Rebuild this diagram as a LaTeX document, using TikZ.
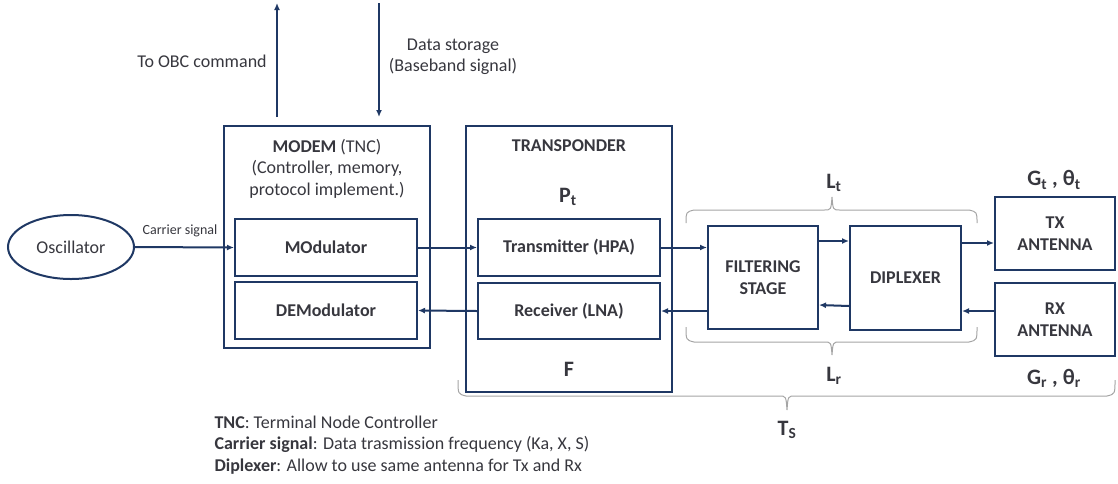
\documentclass[tikz,border=0pt]{standalone}
\usepackage{fontspec}
\setmainfont{Carlito}
\usetikzlibrary{arrows.meta,shapes.geometric}
\definecolor{navy}{RGB}{31,56,100}
\definecolor{ink}{RGB}{55,55,62}
\definecolor{bracegray}{RGB}{165,165,165}

\begin{document}
\begin{tikzpicture}[x=1pt,y=-1pt,
    every node/.style={text=ink, font=\fontsize{18}{21.5}\selectfont},
    block/.style={draw=navy, line width=2pt, inner sep=0pt, align=center, font=\fontsize{18}{22}\selectfont\bfseries},
    arrow/.style={draw=navy, line width=2pt, -{Latex[length=7pt,width=6pt]}},
    curly/.style={draw=bracegray, line width=1pt},
    tag/.style={font=\fontsize{22}{24}\selectfont\bfseries}]
    \useasboundingbox (0,0) rectangle (1118,483);
    % Oscillator and modem
    \node[ellipse, draw=navy, line width=2pt, minimum width=126pt, minimum height=64pt] (osc) at (71,247) {Oscillator};
    \node[font=\fontsize{14}{16}\selectfont] (carrier) at (180,231) {Carrier signal};
    \node[block, minimum width=206pt, minimum height=222pt] (modem) at (327,237) {};
    \node[align=center] (modemtxt) at (327,168.5) {\textbf{MODEM} (TNC)\\(Controller, memory,\\protocol implement.)};
    \node[block, minimum width=182pt, minimum height=57pt] (mod) at (326,247.5) {MOdulator};
    \node[block, minimum width=182pt, minimum height=57pt] (demod) at (326,310.5) {DEModulator};
    % Transponder
    \node[block, minimum width=206pt, minimum height=266pt] (trans) at (569,259) {};
    \node[font=\fontsize{18}{22}\selectfont\bfseries] (transtxt) at (569,146) {TRANSPONDER};
    \node[tag] (pt) at (568,197) {P\textsubscript{t}};
    \node[tag] (f) at (569,369) {F};
    \node[block, minimum width=182pt, minimum height=57pt] (tx) at (569,247.5) {Transmitter (HPA)};
    \node[block, minimum width=182pt, minimum height=56pt] (rx) at (569,311) {Receiver (LNA)};
    % Filtering, diplexer, antennas
    \node[block, minimum width=110pt, minimum height=103pt] (filt) at (763,277.5) {FILTERING\\STAGE};
    \node[block, minimum width=111pt, minimum height=104pt] (dip) at (905.5,278) {DIPLEXER};
    \node[block, minimum width=120pt, minimum height=73pt] (txa) at (1055,233.5) {TX\\ANTENNA};
    \node[block, minimum width=120pt, minimum height=73pt] (rxa) at (1055,319.5) {RX\\ANTENNA};
    % Labels
    \node (obc) at (202,61) {To OBC command};
    \node[align=center] (storage) at (453,57) {Data storage\\(Baseband signal)};
    \node[tag] (lt) at (834,183) {L\textsubscript{t}};
    \node[tag] (lr) at (834,376) {L\textsubscript{r}};
    \node[tag] (gt) at (1054,180) {G\textsubscript{t} , θ\textsubscript{t}};
    \node[tag] (gr) at (1054,378) {G\textsubscript{r} , θ\textsubscript{r}};
    \node[tag] (ts) at (787,430) {T\textsubscript{S}};
    \node[align=left, anchor=west] (legend) at (211,445) {\textbf{TNC}: Terminal Node Controller\\\textbf{Carrier signal}: Data trasmission frequency (Ka, X, S)\\\textbf{Diplexer}: Allow to use same antenna for Tx and Rx};
    % Top connections
    \coordinate (obc up) at (277,3);
    \coordinate (obc low) at (277,117);
    \coordinate (store up) at (379,3);
    \coordinate (store low) at (379,117);
    \draw[arrow] (obc low) -- (obc up);
    \draw[arrow] (store up) -- (store low);
    % Signal chain
    \draw[arrow] (osc.east) -- (mod.west);
    \draw[arrow] (mod.east) -- (tx.west);
    \draw[arrow] (rx.west) -- (demod.east);
    \draw[arrow] (tx.east) -- (tx.east -| filt.west);
    \draw[arrow] (filt.west |- rx.east) -- (rx.east);
    \draw[arrow] ([yshift=-16pt]filt.north east) -- ([yshift=-16pt]dip.north west);
    \draw[arrow] ([yshift=25pt]dip.south west) -- ([yshift=25pt]filt.south east);
    \draw[arrow] ([yshift=-18pt]dip.north east) -- ([yshift=-18pt]dip.north east -| txa.west);
    \draw[arrow] ([yshift=20pt]dip.south east -| rxa.west) -- ([yshift=20pt]dip.south east);
    % Braces
    \draw[curly] (686,223) .. controls (686,212) .. (694,210) -- (824,210) .. controls (831,210) .. (832,197) .. controls (833,210) .. (840,210) -- (969,210) .. controls (977,212) .. (977,223);
    \draw[curly] (686,327) .. controls (686,340) .. (694,342) -- (824,342) .. controls (831,342) .. (832,355) .. controls (833,342) .. (840,342) -- (969,342) .. controls (977,340) .. (977,327);
    \draw[curly] (458,380) .. controls (458,394) .. (466,396) -- (779,396) .. controls (786,396) .. (787,410) .. controls (788,396) .. (795,396) -- (1107,396) .. controls (1115,394) .. (1115,380);
\end{tikzpicture}
\end{document}
